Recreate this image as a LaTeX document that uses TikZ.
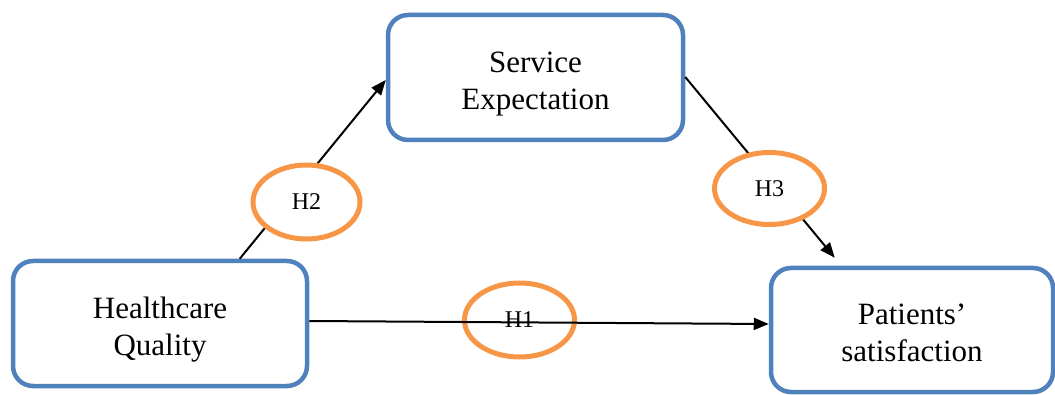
\documentclass[tikz,border=0pt]{standalone}
\usepackage{fontspec}
\setmainfont{Liberation Serif}
\usetikzlibrary{arrows.meta,shapes.geometric}
\definecolor{boxblue}{RGB}{79,129,189}
\definecolor{hypo}{RGB}{247,150,70}
% two centred lines, set a little below the box centre
\newcommand{\twolines}[2]{\raisebox{-6pt}[\height][\depth]{\begin{tabular}{@{}c@{}}#1\\#2\end{tabular}}}
\tikzset{
  construct/.style={draw=boxblue, line width=4.5pt, rounded corners=20pt, fill=white,
    align=center, font=\fontsize{31}{37}\selectfont, inner sep=0pt},
  hyp/.style={ellipse, draw=hypo, line width=5pt, inner sep=0pt,
    font=\fontsize{24}{28}\selectfont},
  link/.style={line width=2pt, -{Triangle[length=15pt,width=12pt]}}
}
\begin{document}
\begin{tikzpicture}[x=1pt,y=-1pt]
\useasboundingbox (0,0) rectangle (1055,395);

% three constructs
\node[construct, minimum width=294pt, minimum height=125pt] (hq) at (160,323.5) {\twolines{Healthcare}{Quality}};
\node[construct, minimum width=295pt, minimum height=125pt] (se) at (535.5,77.5) {\twolines{Service}{Expectation}};
\node[construct, minimum width=282pt, minimum height=124pt] (ps) at (912,330) {\twolines{Patients’}{satisfaction}};

% direct effect, drawn across its label
\node[hyp, minimum width=110pt, minimum height=74pt] (h1) at (519.5,320) {H1};
\draw[link] ([yshift=2.5pt]hq.east) -- ([yshift=6pt]ps.west);

% mediated paths
\draw[link] ([xshift=229pt]hq.north west) -- ([yshift=-2.5pt]se.west);
\draw[link] ([yshift=0.5pt]se.east) -- ([xshift=66pt,yshift=8pt]ps.north west);

\node[hyp, fill=white, minimum width=107pt, minimum height=74pt] (h2) at (306.5,202) {H2};
\node[hyp, fill=white, minimum width=110pt, minimum height=72pt] (h3) at (769.5,188.5) {H3};
\end{tikzpicture}
\end{document}
